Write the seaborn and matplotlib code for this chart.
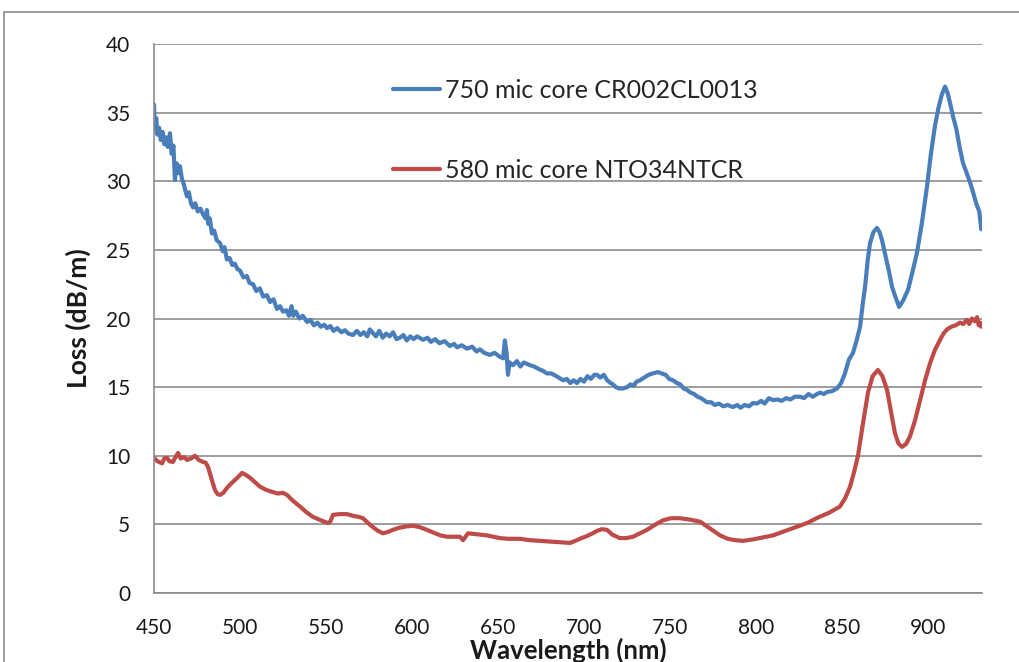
import matplotlib
matplotlib.use('Agg')
import matplotlib.pyplot as plt
from matplotlib.patches import Rectangle
import seaborn as sns
import pandas as pd

# values
blue_label = '750 mic core CR002CL0013'
red_label = '580 mic core NTO34NTCR'

blue_wl = [450, 450.6, 451.3, 452, 453, 454, 455, 456, 457, 458, 459.3, 460.3, 461.3, 462.2, 463.2,
           464.2, 465.1, 466.2, 467.3, 468.3, 469.2, 470.3, 471.5, 472.7, 474, 475.5, 477, 478.5,
           480, 480.8, 481.5, 482.5, 483.7, 485, 486.5, 488.4, 490, 491, 492.4, 494, 495.5, 497,
           498.5, 500, 502, 504, 505.5, 507.6, 509.5, 511.5, 513.5, 515.7, 517.5, 519.5, 521.5,
           523.3, 525, 527, 528.5, 530, 531, 532.5, 534.5, 536.5, 539, 541, 543, 545, 547, 549,
           550.6, 552.5, 554.5, 556.5, 559, 561, 563, 565.7, 568, 570, 572, 574, 575.5, 577.3,
           579, 581, 583, 585, 587, 589, 591, 593, 595, 597, 599, 601, 603, 606.4, 609, 611,
           613.5, 616, 619, 622, 624.5, 626.2, 629, 632, 635, 637.5, 639.5, 642, 645.3, 648,
           651.2, 653, 654, 655, 655.8, 656.8, 658.7, 661, 663, 665, 668.6, 671, 674, 676, 678.5,
           681, 684, 687.8, 690, 692, 694, 695.9, 698, 700, 702, 704, 706, 707.6, 709.5, 711.5,
           713.5, 715.5, 716.9, 718.5, 720.5, 722.7, 725, 727, 729, 730.5, 732.6, 735, 737.5,
           740, 743, 745, 747.5, 749.5, 751.8, 754, 756, 757.9, 759.9, 762, 764, 766, 768,
           771.5, 774, 776, 778.5, 781, 783.5, 786.6, 789, 791, 793.5, 796, 798.3, 800.5, 803,
           805, 807.5, 809.9, 812.5, 815, 817.5, 820, 822.5, 825.6, 828, 830.5, 833, 835.5,
           837.2, 839.5, 841.3, 844, 847.1, 849.5, 851.7, 854, 856.4, 858.5, 860.5, 862, 863.4,
           865, 866.3, 868.3, 870.3, 871.8, 873.3, 874.7, 876.2, 877.7, 879.1, 881, 883.2,
           885.5, 888.4, 891, 893.6, 896.5, 899.4, 901.7, 904, 906, 908, 909.9, 911.5, 913,
           914.6, 916.5, 918.5, 920.4, 922.5, 924.5, 926.2, 928, 929.8, 931]
blue_loss = [35.6, 33.8, 34.6, 33.4, 33.9, 33.0, 33.6, 32.7, 33.2, 32.5, 33.5, 32.0, 32.6, 30.1, 31.3,
             30.6, 31.1, 30.2, 29.8, 29.3, 28.9, 29.2, 28.4, 28.1, 28.4, 27.8, 28.0, 27.6,
             27.3, 27.9, 26.9, 27.3, 26.2, 26.4, 25.7, 25.5, 24.9, 25.2, 24.3, 24.4, 23.9, 24.0,
             23.6, 23.5, 23.0, 23.1, 22.6, 22.5, 22.0, 22.2, 21.6, 21.7, 21.2, 21.4, 20.7,
             20.9, 20.5, 20.6, 20.2, 20.9, 20.2, 20.5, 20.0, 20.2, 19.75, 19.9, 19.5, 19.7, 19.4, 19.55,
             19.3, 19.45, 19.1, 19.3, 19.0, 19.15, 18.9, 18.8, 19.1, 18.8, 19.0, 18.7, 19.2, 18.95,
             18.7, 19.1, 18.6, 18.9, 18.7, 19.0, 18.5, 18.6, 18.8, 18.4, 18.7, 18.5, 18.7, 18.45, 18.6, 18.3,
             18.5, 18.2, 18.35, 18.0, 18.15, 17.9, 18.05, 17.8, 17.95, 17.6, 17.75, 17.5, 17.35, 17.5,
             17.2, 17.1, 18.4, 17.5, 15.9, 16.8, 16.6, 16.9, 16.5, 16.8, 16.6, 16.5, 16.3, 16.2, 16.0,
             16.0, 15.8, 15.5, 15.6, 15.3, 15.5, 15.3, 15.6, 15.4, 15.8, 15.6, 15.9, 15.9, 15.7, 15.9,
             15.5, 15.3, 15.2, 15.0, 14.9, 14.9, 15.0, 15.2, 15.1, 15.4, 15.5, 15.7, 15.9,
             16.0, 16.1, 16.0, 15.9, 15.6, 15.5, 15.3, 15.2, 14.9, 14.8, 14.6, 14.5, 14.3, 14.2,
             13.9, 13.9, 13.7, 13.8, 13.6, 13.7, 13.55, 13.7, 13.5, 13.7, 13.6, 13.85, 13.8, 14.0,
             13.8, 14.2, 14.05, 14.1, 14.0, 14.2, 14.1, 14.3, 14.3, 14.2, 14.5, 14.3, 14.5,
             14.6, 14.5, 14.65, 14.7, 14.9, 15.3, 16.0, 17.0, 17.5, 18.4, 19.4, 21.0, 22.3,
             24.3, 25.5, 26.3, 26.6, 26.3, 25.7, 24.9, 24.05, 23.2, 22.3, 21.6, 20.85,
             21.3, 22.1, 23.4, 24.8, 27.0, 29.6, 32.0, 34.0, 35.3, 36.3, 36.9, 36.4, 35.6,
             34.7, 33.8, 32.4, 31.3, 30.6, 29.9, 29.2, 28.4, 27.8, 26.5]

red_wl = [450, 452, 454.7, 456, 457.6, 459, 461, 462.5, 464, 465.5, 467.5, 469.2, 471.5, 473.8, 476,
          478.5, 480, 481.4, 483.5, 485.5, 487, 488.4, 490.3, 492.4, 494.2, 495.9, 498.5, 501.2,
          503.5, 505.8, 508.5, 511.6, 515.5, 519.2, 522, 525, 527.3, 531, 534.9, 538.5, 542.4,
          547, 551.2, 552.5, 554.1, 558, 562.2, 566.5, 569, 571.5, 574.5, 577.3, 580, 583.1,
          586, 588.9, 592.5, 596.5, 600.6, 604.5, 608.7, 612.5, 616.5, 620.3, 624, 627.9,
          629.7, 632.6, 636.5, 640, 643.6, 647.5, 651.2, 656, 662.8, 668.5, 674.4, 680, 686,
          691.9, 695, 698.5, 701.7, 705, 708, 710.5, 713.4, 716.5, 720.9, 724.5, 728.5, 732.5,
          736.6, 741, 745.9, 750.5, 755.8, 761.5, 767.4, 771, 775, 779.1, 783.5, 788, 792.4,
          798, 804, 809.9, 816.5, 823, 829.7, 836, 842.5, 848.8, 851.8, 854.7, 857, 859.3, 862,
          865.1, 867.8, 870.9, 873.5, 876.2, 878.5, 880.8, 882.8, 884.9, 887.2, 889.5, 892.5,
          895.4, 898.3, 901.2, 904, 907, 909, 911, 913.5, 916, 918.6, 920.5, 922.5, 924, 925.5,
          927.3, 928.5, 929.5, 930.5, 931]
red_loss = [9.85, 9.6, 9.45, 9.8, 9.85, 9.6, 9.55, 9.9, 10.2, 9.8, 9.9, 9.7, 9.8, 10.0, 9.7,
            9.55, 9.5, 9.2, 8.3, 7.5, 7.2, 7.15, 7.3, 7.65, 7.9, 8.1, 8.4, 8.75,
            8.6, 8.4, 8.1, 7.75, 7.5, 7.35, 7.25, 7.3, 7.15, 6.7, 6.3, 5.9, 5.55,
            5.3, 5.1, 5.2, 5.7, 5.75, 5.75, 5.6, 5.55, 5.45, 5.1, 4.8, 4.55, 4.35,
            4.45, 4.6, 4.75, 4.85, 4.9, 4.8, 4.6, 4.4, 4.2, 4.1, 4.1, 4.1,
            3.85, 4.35, 4.3, 4.25, 4.2, 4.1, 4.0, 3.95, 3.95, 3.85, 3.8, 3.75, 3.7,
            3.65, 3.8, 4.0, 4.15, 4.35, 4.55, 4.65, 4.6, 4.25, 4.0, 4.0, 4.1, 4.35,
            4.6, 4.95, 5.3, 5.45, 5.45, 5.35, 5.2, 4.9, 4.55, 4.2, 3.95, 3.85, 3.8,
            3.9, 4.05, 4.2, 4.5, 4.8, 5.1, 5.5, 5.85, 6.3, 6.9, 7.75, 8.8, 10.0, 12.2,
            14.6, 15.8, 16.25, 15.8, 14.8, 13.2, 11.65, 10.9, 10.65, 10.85, 11.4, 12.6,
            14.05, 15.5, 16.75, 17.7, 18.45, 18.9, 19.2, 19.4, 19.5, 19.7, 19.6, 19.9, 19.6, 20.0,
            19.8, 20.1, 19.5, 19.7, 19.4]

x_ticks = [450, 500, 550, 600, 650, 700, 750, 800, 850, 900]
y_ticks = [0, 5, 10, 15, 20, 25, 30, 35, 40]

df = pd.concat([
    pd.DataFrame({'wl': blue_wl, 'loss': blue_loss, 'series': blue_label}),
    pd.DataFrame({'wl': red_wl, 'loss': red_loss, 'series': red_label}),
])

sns.set_style('white')
plt.rcParams['font.family'] = ['Lato', 'DejaVu Sans']

fig = plt.figure(figsize=(10.19, 6.62), dpi=100)
ax = fig.add_axes([0.1511, 0.1042, 0.8126, 0.8293])

# outer chart border like the spreadsheet frame
fig.patches.append(Rectangle((4 / 1019, -0.05), 1.2, 1.05 - 12 / 662, transform=fig.transFigure,
                             fill=False, edgecolor='#8c8c8c', linewidth=1.2))

sns.lineplot(data=df, x='wl', y='loss', hue='series', estimator=None, sort=False,
             palette={blue_label: '#4a7ebb', red_label: '#be4b48'},
             linewidth=3.0, ax=ax)

ax.set_xlim(450, 931.4)
ax.set_ylim(0, 40)
ax.set_xticks(x_ticks)
ax.set_yticks(y_ticks)
ax.yaxis.grid(True, color='#8c8c8c', linewidth=1.2)
ax.xaxis.grid(False)
for s in ['top', 'right']:
    ax.spines[s].set_visible(False)
for s in ['left', 'bottom']:
    ax.spines[s].set_color('#8c8c8c')
    ax.spines[s].set_linewidth(1.2)
ax.tick_params(axis='both', direction='out', length=6, width=1.2, color='#8c8c8c',
               labelsize=15, labelcolor='#1a1a1a')
ax.tick_params(axis='y', pad=11)
ax.tick_params(axis='x', pad=12)

ax.set_xlabel('Wavelength (nm)', fontsize=18.5, fontweight='bold', color='#1a1a1a', labelpad=0)
ax.set_ylabel('Loss (dB/m)', fontsize=19, fontweight='bold', color='#1a1a1a', labelpad=11)

ax.legend(title=None, frameon=False, loc='upper left', bbox_to_anchor=(0.273, 0.959),
          fontsize=18, handlelength=1.9, handletextpad=0.2, labelspacing=2.27, borderpad=0)

plt.savefig('out.png', dpi=100)
plt.close()
